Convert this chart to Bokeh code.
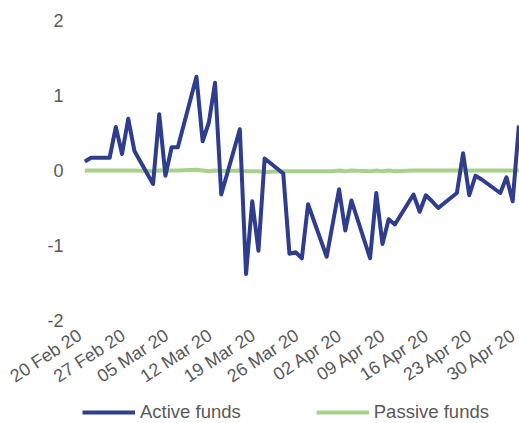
from datetime import datetime
from bokeh.plotting import figure
from bokeh.models import Range1d, Legend, LegendItem, ColumnDataSource
from bokeh.core.properties import value
from bokeh.embed import file_html
from bokeh.resources import INLINE

dates = ["2020-02-20", "2020-02-21", "2020-02-24", "2020-02-25", "2020-02-26", "2020-02-27", "2020-02-28",
         "2020-03-02", "2020-03-03", "2020-03-04", "2020-03-05", "2020-03-06",
         "2020-03-09", "2020-03-10", "2020-03-11", "2020-03-12", "2020-03-13",
         "2020-03-16", "2020-03-17", "2020-03-18", "2020-03-19", "2020-03-20",
         "2020-03-23", "2020-03-24", "2020-03-25", "2020-03-26", "2020-03-27",
         "2020-03-30", "2020-03-31", "2020-04-01", "2020-04-02", "2020-04-03",
         "2020-04-06", "2020-04-07", "2020-04-08", "2020-04-09", "2020-04-10",
         "2020-04-13", "2020-04-14", "2020-04-15", "2020-04-16", "2020-04-17",
         "2020-04-20", "2020-04-21", "2020-04-22", "2020-04-23", "2020-04-24",
         "2020-04-27", "2020-04-28", "2020-04-29", "2020-04-30"]

active = [0.12, 0.17, 0.17, 0.58, 0.22, 0.69, 0.26,
          -0.18, 0.75, -0.07, 0.31, 0.31,
          1.25, 0.39, 0.64, 1.17, -0.32,
          0.55, -1.38, -0.41, -1.07, 0.16,
          -0.04, -1.11, -1.09, -1.17, -0.45,
          -1.15, -0.70, -0.25, -0.80, -0.40,
          -1.17, -0.30, -0.98, -0.65, -0.72,
          -0.32, -0.55, -0.33, -0.41, -0.50,
          -0.30, 0.23, -0.33, -0.07, -0.12,
          -0.30, -0.09, -0.41, 0.60]

passive = [0.00, 0.00, 0.00, 0.00, 0.00, 0.00, 0.00,
           -0.01, 0.00, 0.00, 0.00, 0.00,
           0.01, 0.00, -0.01, 0.00, -0.01,
           0.00, -0.01, -0.01, -0.01, -0.02,
           -0.01, -0.01, -0.01, -0.01, -0.01,
           -0.01, -0.01, 0.00, -0.01, 0.00,
           -0.01, 0.00, -0.01, 0.00, -0.01,
           0.00, 0.00, 0.00, 0.00, 0.00,
           0.00, 0.00, 0.00, 0.00, 0.00,
           0.00, 0.00, 0.00, 0.00]

tick_dates = ["2020-02-20", "2020-02-27", "2020-03-05", "2020-03-12", "2020-03-19", "2020-03-26",
              "2020-04-02", "2020-04-09", "2020-04-16", "2020-04-23", "2020-04-30"]
tick_labels = ["20 Feb 20", "27 Feb 20", "05 Mar 20", "12 Mar 20", "19 Mar 20", "26 Mar 20",
               "02 Apr 20", "09 Apr 20", "16 Apr 20", "23 Apr 20", "30 Apr 20"]
y_ticks = [2, 1, 0, -1, -2]
y_tick_labels = ["2", "1", "0", "-1", "-2"]
y_min, y_max = -2, 2

def to_dt(s):
    return datetime.strptime(s, "%Y-%m-%d")

def ms(s):
    return (to_dt(s) - datetime(1970, 1, 1)).total_seconds() * 1000.0

DAY = 86400000.0
x_start = ms(dates[0]) - 13.6 * DAY
x_end = ms(dates[-1]) + 0.1 * DAY

src = ColumnDataSource(dict(x=[to_dt(d) for d in dates], active=active, passive=passive))
xtick_src = ColumnDataSource(dict(x=[to_dt(d) for d in tick_dates], y=[y_min] * len(tick_dates),
                                  text=tick_labels))
ytick_src = ColumnDataSource(dict(x=[x_start] * len(y_ticks), y=y_ticks, text=y_tick_labels))

FONT = "Liberation Sans"
GREY = "#595959"
W, H = 519, 423
TOP_PAD = 20            # pixels above the y = 2 level
PX_PER_UNIT = 75.0

p = figure(frame_width=W, frame_height=H, x_axis_type="datetime",
           x_axis_location=None, y_axis_location=None,
           output_backend="svg", toolbar_location=None,
           min_border_left=0, min_border_right=0, min_border_top=0, min_border_bottom=0)
p.x_range = Range1d(x_start, x_end)
p.y_range = Range1d(y_max + TOP_PAD / PX_PER_UNIT - H / PX_PER_UNIT, y_max + TOP_PAD / PX_PER_UNIT)
p.outline_line_color = None
p.grid.visible = False
p.background_fill_color = "white"
p.border_fill_color = "white"

r_pass = p.line("x", "passive", source=src, line_color="#A9D18E", line_width=4)
r_act = p.line("x", "active", source=src, line_color="#2E3D8E", line_width=4, line_join="round")

# x tick labels (dates), rotated, just under the y = -2 level
p.text(x="x", y="y", text="text", source=xtick_src, angle=0.58,
       text_align="right", text_baseline="middle", x_offset=-5, y_offset=13,
       text_font=value(FONT), text_font_size="18px", text_color=GREY)

# y tick labels, right-aligned to the left of the plotted dates
p.text(x="x", y="y", text="text", source=ytick_src, x_offset=63,
       text_align="right", text_baseline="middle",
       text_font=value(FONT), text_font_size="18px", text_color=GREY)

legend = Legend(items=[LegendItem(label="Active funds", renderers=[r_act]),
                       LegendItem(label="Passive funds", renderers=[r_pass])],
                orientation="horizontal", location=(82, 0),
                glyph_width=53, glyph_height=18, label_standoff=5, spacing=75,
                padding=0, margin=0, border_line_color=None, background_fill_alpha=0,
                label_text_font=FONT, label_text_font_size="18.5px", label_text_color=GREY)
p.add_layout(legend, "center")

open("out.html", "w").write(file_html(p, INLINE))
